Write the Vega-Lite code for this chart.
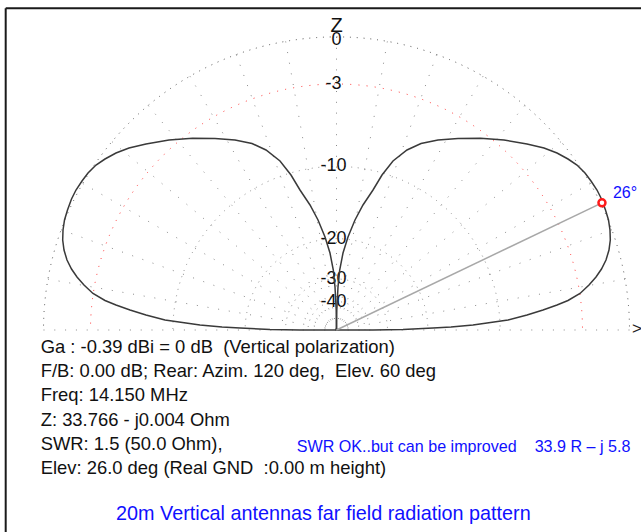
{
  "$schema": "https://vega.github.io/schema/vega-lite/v6.json",
  "width": 641,
  "height": 532,
  "padding": 0,
  "autosize": "none",
  "background": "white",
  "config": {"view": {"stroke": null}},
  "datasets": {
    "pattern": [
      {"lobe": "L", "i": 1, "x": 0, "y": 0},
      {"lobe": "L", "i": 2, "x": -0.1246, "y": 0},
      {"lobe": "L", "i": 3, "x": -0.2270, "y": 0.0017},
      {"lobe": "L", "i": 4, "x": -0.3294, "y": 0.0068},
      {"lobe": "L", "i": 5, "x": -0.3908, "y": 0.0102},
      {"lobe": "L", "i": 6, "x": -0.4659, "y": 0.0171},
      {"lobe": "L", "i": 7, "x": -0.5137, "y": 0.0239},
      {"lobe": "L", "i": 8, "x": -0.5853, "y": 0.0341},
      {"lobe": "L", "i": 9, "x": -0.6502, "y": 0.0512},
      {"lobe": "L", "i": 10, "x": -0.7048, "y": 0.0683},
      {"lobe": "L", "i": 11, "x": -0.7526, "y": 0.0853},
      {"lobe": "L", "i": 12, "x": -0.7901, "y": 0.1007},
      {"lobe": "L", "i": 13, "x": -0.8311, "y": 0.1246},
      {"lobe": "L", "i": 14, "x": -0.8618, "y": 0.1536},
      {"lobe": "L", "i": 15, "x": -0.8857, "y": 0.1809},
      {"lobe": "L", "i": 16, "x": -0.9044, "y": 0.2082},
      {"lobe": "L", "i": 17, "x": -0.9198, "y": 0.2389},
      {"lobe": "L", "i": 18, "x": -0.9300, "y": 0.2730},
      {"lobe": "L", "i": 19, "x": -0.9345, "y": 0.3072},
      {"lobe": "L", "i": 20, "x": -0.9334, "y": 0.3413},
      {"lobe": "L", "i": 21, "x": -0.9283, "y": 0.3754},
      {"lobe": "L", "i": 22, "x": -0.9181, "y": 0.4096},
      {"lobe": "L", "i": 23, "x": -0.9044, "y": 0.4471},
      {"lobe": "L", "i": 24, "x": -0.8891, "y": 0.4778},
      {"lobe": "L", "i": 25, "x": -0.8686, "y": 0.5085},
      {"lobe": "L", "i": 26, "x": -0.8481, "y": 0.5358},
      {"lobe": "L", "i": 27, "x": -0.8208, "y": 0.5631},
      {"lobe": "L", "i": 28, "x": -0.7901, "y": 0.5836},
      {"lobe": "L", "i": 29, "x": -0.7526, "y": 0.6041},
      {"lobe": "L", "i": 30, "x": -0.7082, "y": 0.6212},
      {"lobe": "L", "i": 31, "x": -0.6502, "y": 0.6348},
      {"lobe": "L", "i": 32, "x": -0.5717, "y": 0.6485},
      {"lobe": "L", "i": 33, "x": -0.4915, "y": 0.6543},
      {"lobe": "L", "i": 34, "x": -0.4147, "y": 0.6536},
      {"lobe": "L", "i": 35, "x": -0.3464, "y": 0.6485},
      {"lobe": "L", "i": 36, "x": -0.2884, "y": 0.6365},
      {"lobe": "L", "i": 37, "x": -0.2406, "y": 0.6143},
      {"lobe": "L", "i": 38, "x": -0.1928, "y": 0.5768},
      {"lobe": "L", "i": 39, "x": -0.1553, "y": 0.5290},
      {"lobe": "L", "i": 40, "x": -0.1246, "y": 0.4778},
      {"lobe": "L", "i": 41, "x": -0.0904, "y": 0.4266},
      {"lobe": "L", "i": 42, "x": -0.0631, "y": 0.3754},
      {"lobe": "L", "i": 43, "x": -0.0392, "y": 0.3174},
      {"lobe": "L", "i": 44, "x": -0.0222, "y": 0.2628},
      {"lobe": "L", "i": 45, "x": -0.0109, "y": 0.2048},
      {"lobe": "L", "i": 46, "x": -0.0051, "y": 0.1468},
      {"lobe": "L", "i": 47, "x": -0.0010, "y": 0.0683},
      {"lobe": "L", "i": 48, "x": 0, "y": 0},
      {"lobe": "R", "i": 1, "x": 0, "y": 0},
      {"lobe": "R", "i": 2, "x": 0.1246, "y": 0},
      {"lobe": "R", "i": 3, "x": 0.2270, "y": 0.0017},
      {"lobe": "R", "i": 4, "x": 0.3294, "y": 0.0068},
      {"lobe": "R", "i": 5, "x": 0.3908, "y": 0.0102},
      {"lobe": "R", "i": 6, "x": 0.4659, "y": 0.0171},
      {"lobe": "R", "i": 7, "x": 0.5137, "y": 0.0239},
      {"lobe": "R", "i": 8, "x": 0.5853, "y": 0.0341},
      {"lobe": "R", "i": 9, "x": 0.6502, "y": 0.0512},
      {"lobe": "R", "i": 10, "x": 0.7048, "y": 0.0683},
      {"lobe": "R", "i": 11, "x": 0.7526, "y": 0.0853},
      {"lobe": "R", "i": 12, "x": 0.7901, "y": 0.1007},
      {"lobe": "R", "i": 13, "x": 0.8311, "y": 0.1246},
      {"lobe": "R", "i": 14, "x": 0.8618, "y": 0.1536},
      {"lobe": "R", "i": 15, "x": 0.8857, "y": 0.1809},
      {"lobe": "R", "i": 16, "x": 0.9044, "y": 0.2082},
      {"lobe": "R", "i": 17, "x": 0.9198, "y": 0.2389},
      {"lobe": "R", "i": 18, "x": 0.9300, "y": 0.2730},
      {"lobe": "R", "i": 19, "x": 0.9345, "y": 0.3072},
      {"lobe": "R", "i": 20, "x": 0.9334, "y": 0.3413},
      {"lobe": "R", "i": 21, "x": 0.9283, "y": 0.3754},
      {"lobe": "R", "i": 22, "x": 0.9181, "y": 0.4096},
      {"lobe": "R", "i": 23, "x": 0.9044, "y": 0.4471},
      {"lobe": "R", "i": 24, "x": 0.8891, "y": 0.4778},
      {"lobe": "R", "i": 25, "x": 0.8686, "y": 0.5085},
      {"lobe": "R", "i": 26, "x": 0.8481, "y": 0.5358},
      {"lobe": "R", "i": 27, "x": 0.8208, "y": 0.5631},
      {"lobe": "R", "i": 28, "x": 0.7901, "y": 0.5836},
      {"lobe": "R", "i": 29, "x": 0.7526, "y": 0.6041},
      {"lobe": "R", "i": 30, "x": 0.7082, "y": 0.6212},
      {"lobe": "R", "i": 31, "x": 0.6502, "y": 0.6348},
      {"lobe": "R", "i": 32, "x": 0.5717, "y": 0.6485},
      {"lobe": "R", "i": 33, "x": 0.4915, "y": 0.6543},
      {"lobe": "R", "i": 34, "x": 0.4147, "y": 0.6536},
      {"lobe": "R", "i": 35, "x": 0.3464, "y": 0.6485},
      {"lobe": "R", "i": 36, "x": 0.2884, "y": 0.6365},
      {"lobe": "R", "i": 37, "x": 0.2406, "y": 0.6143},
      {"lobe": "R", "i": 38, "x": 0.1928, "y": 0.5768},
      {"lobe": "R", "i": 39, "x": 0.1553, "y": 0.5290},
      {"lobe": "R", "i": 40, "x": 0.1246, "y": 0.4778},
      {"lobe": "R", "i": 41, "x": 0.0904, "y": 0.4266},
      {"lobe": "R", "i": 42, "x": 0.0631, "y": 0.3754},
      {"lobe": "R", "i": 43, "x": 0.0392, "y": 0.3174},
      {"lobe": "R", "i": 44, "x": 0.0222, "y": 0.2628},
      {"lobe": "R", "i": 45, "x": 0.0109, "y": 0.2048},
      {"lobe": "R", "i": 46, "x": 0.0051, "y": 0.1468},
      {"lobe": "R", "i": 47, "x": 0.0010, "y": 0.0683},
      {"lobe": "R", "i": 48, "x": 0, "y": 0}
    ],
    "rings": [
      {"db": 0, "r": 1, "lbl": "0"},
      {"db": -3, "r": 0.8396, "lbl": "-3"},
      {"db": -10, "r": 0.5584, "lbl": "-10"},
      {"db": -20, "r": 0.3118, "lbl": "-20"},
      {"db": -30, "r": 0.1741, "lbl": "-30"},
      {"db": -40, "r": 0.0972, "lbl": "-40"}
    ],
    "spokes": [
      {"a": 0, "ex": 1, "ey": 0},
      {"a": 10, "ex": 0.9848, "ey": 0.1736},
      {"a": 20, "ex": 0.9397, "ey": 0.3420},
      {"a": 30, "ex": 0.8660, "ey": 0.5},
      {"a": 40, "ex": 0.7660, "ey": 0.6428},
      {"a": 50, "ex": 0.6428, "ey": 0.7660},
      {"a": 60, "ex": 0.5, "ey": 0.8660},
      {"a": 70, "ex": 0.3420, "ey": 0.9397},
      {"a": 80, "ex": 0.1736, "ey": 0.9848},
      {"a": 90, "ex": 0, "ey": 1},
      {"a": 100, "ex": -0.1736, "ey": 0.9848},
      {"a": 110, "ex": -0.3420, "ey": 0.9397},
      {"a": 120, "ex": -0.5, "ey": 0.8660},
      {"a": 130, "ex": -0.6428, "ey": 0.7660},
      {"a": 140, "ex": -0.7660, "ey": 0.6428},
      {"a": 150, "ex": -0.8660, "ey": 0.5},
      {"a": 160, "ex": -0.9397, "ey": 0.3420},
      {"a": 170, "ex": -0.9848, "ey": 0.1736},
      {"a": 180, "ex": -1, "ey": 0}
    ],
    "peak": [{"x": 0.906, "y": 0.434, "lbl": "26°"}]
  },
  "layer": [
    {
      "data": {"name": "rings"},
      "transform": [{"filter": "datum.db == 0"}],
      "mark": {"type": "point", "shape": "circle", "filled": false, "stroke": "#505050", "strokeWidth": 1, "strokeDash": [1, 5.8], "opacity": 1},
      "encoding": {
        "x": {"datum": 0, "type": "quantitative", "scale": {"domain": [-1.148464, 1.039249], "nice": false, "zero": false}, "axis": null},
        "y": {"datum": 0, "type": "quantitative", "scale": {"domain": [-0.68942, 1.12628], "nice": false, "zero": false}, "axis": null},
        "size": {"field": "r", "type": "quantitative", "scale": {"type": "pow", "exponent": 2, "domain": [0, 1], "range": [0, 343396], "zero": true}, "legend": null}
      }
    },
    {
      "data": {"name": "rings"},
      "transform": [{"filter": "datum.db == -3"}],
      "mark": {"type": "point", "shape": "circle", "filled": false, "stroke": "#ff3030", "strokeWidth": 1, "strokeDash": [1, 7.2], "opacity": 1},
      "encoding": {
        "x": {"datum": 0, "type": "quantitative", "axis": null},
        "y": {"datum": 0, "type": "quantitative", "axis": null},
        "size": {"field": "r", "type": "quantitative", "legend": null}
      }
    },
    {
      "data": {"name": "rings"},
      "transform": [{"filter": "datum.db < -3"}],
      "mark": {"type": "point", "shape": "circle", "filled": false, "stroke": "#8a8a8a", "strokeWidth": 1, "strokeDash": [1, 5.6], "opacity": 1},
      "encoding": {
        "x": {"datum": 0, "type": "quantitative", "axis": null},
        "y": {"datum": 0, "type": "quantitative", "axis": null},
        "size": {"field": "r", "type": "quantitative", "legend": null}
      }
    },
    {
      "data": {"values": [{}]},
      "mark": {"type": "rect", "fill": "white"},
      "encoding": {
        "x": {"value": 0},
        "x2": {"value": "width"},
        "y": {"datum": 0, "type": "quantitative", "axis": null},
        "y2": {"value": "height"}
      }
    },
    {
      "data": {"name": "spokes"},
      "mark": {"type": "rule", "stroke": "#8a8a8a", "strokeWidth": 1, "strokeDash": [1, 9.8]},
      "encoding": {
        "x": {"field": "ex", "type": "quantitative", "axis": null},
        "y": {"field": "ey", "type": "quantitative", "axis": null},
        "x2": {"datum": 0},
        "y2": {"datum": 0}
      }
    },
    {
      "data": {"name": "rings"},
      "transform": [{"filter": "datum.db < 0"}],
      "mark": {"type": "text", "font": "Liberation Sans", "fontSize": 18, "color": "#111111", "align": "center", "baseline": "middle", "dx": -3},
      "encoding": {
        "x": {"datum": 0, "type": "quantitative", "axis": null},
        "y": {"field": "r", "type": "quantitative", "axis": null},
        "text": {"field": "lbl", "type": "nominal"}
      }
    },
    {
      "data": {"name": "rings"},
      "transform": [{"filter": "datum.db == 0"}],
      "mark": {"type": "text", "font": "Liberation Sans", "fontSize": 18, "color": "#111111", "align": "center", "baseline": "middle", "dy": 3},
      "encoding": {
        "x": {"datum": 0, "type": "quantitative", "axis": null},
        "y": {"field": "r", "type": "quantitative", "axis": null},
        "text": {"field": "lbl", "type": "nominal"}
      }
    },
    {
      "data": {"values": [{}]},
      "mark": {"type": "text", "text": "Z", "font": "Liberation Sans", "fontSize": 20, "color": "#111111", "align": "center", "baseline": "middle"},
      "encoding": {
        "x": {"datum": 0, "type": "quantitative", "axis": null},
        "y": {"datum": 1.0392, "type": "quantitative", "axis": null}
      }
    },
    {
      "data": {"name": "pattern"},
      "mark": {"type": "line", "color": "#3a3a3a", "strokeWidth": 1.5, "interpolate": "linear"},
      "encoding": {
        "x": {"field": "x", "type": "quantitative", "axis": null},
        "y": {"field": "y", "type": "quantitative", "axis": null},
        "detail": {"field": "lobe", "type": "nominal"},
        "order": {"field": "i", "type": "quantitative"}
      }
    },
    {
      "data": {"name": "peak"},
      "mark": {"type": "rule", "color": "#a8a8a8", "strokeWidth": 1.5},
      "encoding": {
        "x": {"field": "x", "type": "quantitative", "axis": null},
        "y": {"field": "y", "type": "quantitative", "axis": null},
        "x2": {"datum": 0},
        "y2": {"datum": 0}
      }
    },
    {
      "data": {"name": "peak"},
      "mark": {"type": "point", "shape": "circle", "size": 49, "filled": true, "fill": "white", "stroke": "#ff1a1a", "strokeWidth": 2.5, "opacity": 1},
      "encoding": {
        "x": {"field": "x", "type": "quantitative", "axis": null},
        "y": {"field": "y", "type": "quantitative", "axis": null}
      }
    },
    {
      "data": {"name": "peak"},
      "mark": {"type": "text", "font": "Liberation Sans", "fontSize": 16, "color": "#1010ff", "align": "left", "baseline": "alphabetic", "dx": 11, "dy": -5},
      "encoding": {
        "x": {"field": "x", "type": "quantitative", "axis": null},
        "y": {"field": "y", "type": "quantitative", "axis": null},
        "text": {"field": "lbl", "type": "nominal"}
      }
    },
    {
      "data": {"values": [{}]},
      "mark": {"type": "text", "text": ">", "font": "Liberation Sans", "fontSize": 17, "color": "#222222", "align": "center", "baseline": "middle"},
      "encoding": {
        "x": {"datum": 1.0256, "type": "quantitative", "axis": null},
        "y": {"datum": 0.0034, "type": "quantitative", "axis": null}
      }
    },
    {
      "data": {"values": [{}]},
      "mark": {"type": "text", "text": "Ga : -0.39 dBi = 0 dB\u00a0 (Vertical polarization)", "font": "Liberation Sans", "fontSize": 18.4, "color": "#111111", "align": "left", "baseline": "alphabetic"},
      "encoding": {
        "x": {"datum": -1.0096, "type": "quantitative", "axis": null},
        "y": {"datum": -0.0775, "type": "quantitative", "axis": null}
      }
    },
    {
      "data": {"values": [{}]},
      "mark": {"type": "text", "text": "F/B: 0.00 dB; Rear: Azim. 120 deg,\u00a0 Elev. 60 deg", "font": "Liberation Sans", "fontSize": 18.4, "color": "#111111", "align": "left", "baseline": "alphabetic"},
      "encoding": {
        "x": {"datum": -1.0096, "type": "quantitative", "axis": null},
        "y": {"datum": -0.1604, "type": "quantitative", "axis": null}
      }
    },
    {
      "data": {"values": [{}]},
      "mark": {"type": "text", "text": "Freq: 14.150 MHz", "font": "Liberation Sans", "fontSize": 18.4, "color": "#111111", "align": "left", "baseline": "alphabetic"},
      "encoding": {
        "x": {"datum": -1.0096, "type": "quantitative", "axis": null},
        "y": {"datum": -0.2434, "type": "quantitative", "axis": null}
      }
    },
    {
      "data": {"values": [{}]},
      "mark": {"type": "text", "text": "Z: 33.766 - j0.004 Ohm", "font": "Liberation Sans", "fontSize": 18.4, "color": "#111111", "align": "left", "baseline": "alphabetic"},
      "encoding": {
        "x": {"datum": -1.0096, "type": "quantitative", "axis": null},
        "y": {"datum": -0.3263, "type": "quantitative", "axis": null}
      }
    },
    {
      "data": {"values": [{}]},
      "mark": {"type": "text", "text": "SWR: 1.5 (50.0 Ohm),", "font": "Liberation Sans", "fontSize": 18.4, "color": "#111111", "align": "left", "baseline": "alphabetic"},
      "encoding": {
        "x": {"datum": -1.0096, "type": "quantitative", "axis": null},
        "y": {"datum": -0.4092, "type": "quantitative", "axis": null}
      }
    },
    {
      "data": {"values": [{}]},
      "mark": {"type": "text", "text": "Elev: 26.0 deg (Real GND\u00a0 :0.00 m height)", "font": "Liberation Sans", "fontSize": 18.4, "color": "#111111", "align": "left", "baseline": "alphabetic"},
      "encoding": {
        "x": {"datum": -1.0096, "type": "quantitative", "axis": null},
        "y": {"datum": -0.4922, "type": "quantitative", "axis": null}
      }
    },
    {
      "data": {"values": [{}]},
      "mark": {"type": "text", "text": "SWR OK..but can be improved\u00a0 \u00a0 33.9 R – j 5.8", "font": "Liberation Sans", "fontSize": 16.1, "color": "#1010ff", "align": "left", "baseline": "alphabetic"},
      "encoding": {
        "x": {"datum": -0.1358, "type": "quantitative", "axis": null},
        "y": {"datum": -0.4154, "type": "quantitative", "axis": null}
      }
    },
    {
      "data": {"values": [{}]},
      "mark": {"type": "text", "text": "20m Vertical antennas far field radiation pattern", "font": "Liberation Sans", "fontSize": 19.8, "color": "#1010ff", "align": "center", "baseline": "alphabetic"},
      "encoding": {
        "x": {"datum": -0.0447, "type": "quantitative", "axis": null},
        "y": {"datum": -0.6485, "type": "quantitative", "axis": null}
      }
    },
    {
      "data": {"values": [{}]},
      "mark": {"type": "rule", "color": "#1a1a1a", "strokeWidth": 2},
      "encoding": {
        "x": {"datum": -1.129, "type": "quantitative", "axis": null},
        "y": {"datum": 1.098, "type": "quantitative", "axis": null},
        "y2": {"value": "height"}
      }
    },
    {
      "data": {"values": [{}]},
      "mark": {"type": "rule", "color": "#1a1a1a", "strokeWidth": 2},
      "encoding": {
        "y": {"datum": 1.098, "type": "quantitative", "axis": null},
        "x": {"datum": -1.129, "type": "quantitative", "axis": null},
        "x2": {"value": "width"}
      }
    }
  ]
}
